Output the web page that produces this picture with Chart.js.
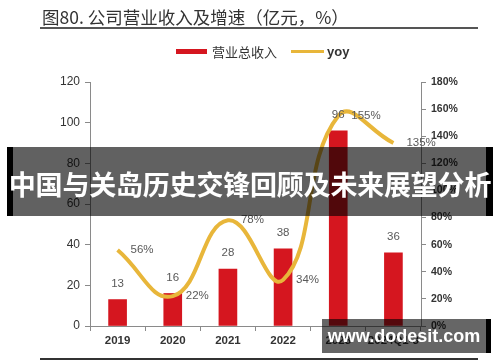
<!DOCTYPE html>
<html>
<head>
<meta charset="utf-8">
<script src="https://cdn.jsdelivr.net/npm/chart.js@4.4.1/dist/chart.umd.min.js"></script>
<style>
  html, body { margin: 0; padding: 0; background: #fff; }
  #wrap { position: relative; width: 500px; height: 362px; overflow: hidden; background: #fff; }
  #c { position: absolute; left: 0; top: 0; }
  .title { position: absolute; left: 42px; top: 5px; font-family: "Noto Sans CJK SC", sans-serif; font-size: 17.5px; color: #333; line-height: 24px; white-space: nowrap; }
  .rule { position: absolute; left: 40px; top: 27px; width: 438px; height: 2px; background: #555; }
  .rule2 { position: absolute; left: 40px; top: 358px; width: 438px; height: 2px; background: #333; }
  .lg { position: absolute; font-family: "Noto Sans CJK SC", sans-serif; font-size: 13px; color: #333; line-height: 16px; top: 44px; white-space: nowrap; }
  .sw { position: absolute; }
  .banner { position: absolute; left: 7px; top: 147px; width: 486px; height: 69px; background: rgba(0,0,0,0.62); box-sizing: border-box; border-left: 6px solid #000; border-right: 7px solid #000; }
  .banner span { position: absolute; left: -6px; width: 486px; top: 0; line-height: 74px; text-align: center; font-family: "Noto Sans CJK SC", sans-serif; font-weight: bold; font-size: 27px; color: #fff; white-space: nowrap; letter-spacing: -0.2px; }
  .wm { position: absolute; left: 322px; top: 319px; width: 169px; height: 34px; background: rgba(0,0,0,0.6); box-sizing: border-box; border-right: 5px solid #000; }
  .wm span { position: absolute; left: 0; width: 164px; top: 0; line-height: 34px; text-align: center; font-family: "Liberation Sans", Arial, sans-serif; font-weight: bold; font-size: 18px; color: #fff; white-space: nowrap; }
</style>
</head>
<body>
<div id="wrap">
  <canvas id="c" width="500" height="362"></canvas>
  <div class="title">图80. 公司营业收入及增速（亿元，%）</div>
  <div class="rule"></div>
  <div class="sw" style="left:176px;top:49px;width:31px;height:5px;background:#D5161F;"></div>
  <div class="lg" style="left:212px;">营业总收入</div>
  <div class="sw" style="left:291px;top:50px;width:33px;height:3px;background:#E8B63A;"></div>
  <div class="lg" style="left:327px;font-family:'Liberation Sans',Arial,sans-serif;font-weight:bold;">yoy</div>
  <div class="rule2"></div>
  <div class="banner"><span>中国与关岛历史交锋回顾及未来展望分析</span></div>
  <div class="wm"><span>www.dodesit.com</span></div>
</div>
<script>
const categories = ["2019", "2020", "2021", "2022", "2023", "2024Q1-3"];
const revenue = [13, 16, 28, 38, 96, 36];
const yoy = [56, 22, 78, 34, 155, 135];
const leftTicks = [0, 20, 40, 60, 80, 100, 120];
const rightTicks = [0, 20, 40, 60, 80, 100, 120, 140, 160, 180];

const labelPlugin = {
  id: 'valueLabels',
  afterDatasetsDraw(chart) {
    const ctx = chart.ctx;
    ctx.save();
    ctx.font = '11.5px "Liberation Sans", Arial, sans-serif';
    ctx.fillStyle = '#595959';
    ctx.textBaseline = 'middle';
    const barMeta = chart.getDatasetMeta(1);
    barMeta.data.forEach((el, i) => {
      ctx.textAlign = 'center';
      ctx.fillText(String(revenue[i]), el.x, el.y - 16);
    });
    const lineMeta = chart.getDatasetMeta(0);
    lineMeta.data.forEach((el, i) => {
      ctx.textAlign = 'left';
      ctx.fillText(yoy[i] + '%', el.x + 13, el.y);
    });
    ctx.restore();
  }
};

const axisColor = '#8a8a8a';
new Chart(document.getElementById('c'), {
  type: 'bar',
  data: {
    labels: categories,
    datasets: [
      {
        type: 'line',
        label: 'yoy',
        data: yoy,
        yAxisID: 'y1',
        borderColor: '#E8B63A',
        borderWidth: 4,
        tension: 0.45,
        pointRadius: 0,
        fill: false,
        order: 0
      },
      {
        type: 'bar',
        label: '营业总收入',
        data: revenue,
        yAxisID: 'y',
        backgroundColor: '#D5161F',
        barThickness: 18,
        order: 1
      }
    ]
  },
  options: {
    responsive: false,
    devicePixelRatio: 1,
    animation: false,
    layout: { padding: { top: 82, left: 0, right: 0, bottom: 0 } },
    plugins: { legend: { display: false }, tooltip: { enabled: false } },
    scales: {
      x: {
        grid: { drawOnChartArea: false, drawTicks: true, tickLength: 5, color: axisColor, offset: true },
        border: { color: axisColor, width: 1 },
        ticks: { color: '#333', font: { family: '"Liberation Sans", Arial, sans-serif', size: 11.5, weight: 'bold' }, padding: 3, maxRotation: 0, autoSkip: false },
        afterFit(s) { s.height = 36; }
      },
      y: {
        position: 'left',
        min: 0, max: 120,
        afterBuildTicks(s) { s.ticks = leftTicks.map(v => ({ value: v })); },
        grid: { drawOnChartArea: false, drawTicks: true, tickLength: 5, color: axisColor },
        border: { color: axisColor, width: 1 },
        ticks: { color: '#333', font: { family: '"Liberation Sans", Arial, sans-serif', size: 12 }, padding: 5 },
        afterFit(s) { s.width = 90; }
      },
      y1: {
        position: 'right',
        min: 0, max: 180,
        afterBuildTicks(s) { s.ticks = rightTicks.map(v => ({ value: v })); },
        grid: { drawOnChartArea: false, drawTicks: true, tickLength: 5, color: axisColor },
        border: { color: axisColor, width: 1 },
        ticks: { color: '#333', font: { family: '"Liberation Sans", Arial, sans-serif', size: 10.5, weight: 'bold' }, padding: 5, callback: v => v + '%' },
        afterFit(s) { s.width = 79; }
      }
    }
  },
  plugins: [labelPlugin]
});
</script>
</body>
</html>
